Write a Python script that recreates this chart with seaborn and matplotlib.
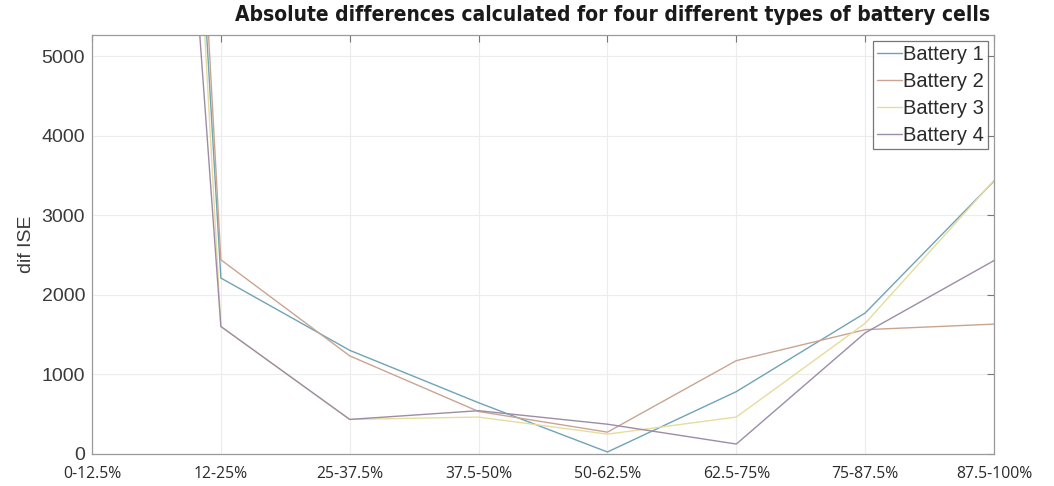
import pandas as pd
import seaborn as sns
import matplotlib.pyplot as plt

# state-of-charge windows
windows = ["0-12.5%", "12-25%", "25-37.5%", "37.5-50%",
           "50-62.5%", "62.5-75%", "75-87.5%", "87.5-100%"]

# dif ISE (first window runs far off the top)
battery_1 = [30000, 2210, 1300, 640, 20, 780, 1770, 3430]
battery_2 = [32000, 2440, 1230, 530, 270, 1170, 1560, 1630]
battery_3 = [31000, 1600, 430, 460, 245, 460, 1640, 3440]
battery_4 = [24000, 1600, 430, 540, 370, 120, 1520, 2430]

names = ["Battery 1", "Battery 2", "Battery 3", "Battery 4"]
colors = ["#6fa3b8", "#c9a591", "#e6dc9c", "#9c8ca8"]

df = pd.DataFrame({"window": windows,
                   "Battery 1": battery_1, "Battery 2": battery_2,
                   "Battery 3": battery_3, "Battery 4": battery_4})
long = df.melt(id_vars="window", var_name="battery", value_name="dif")

sns.set_style("white")
plt.rcParams["font.family"] = ["Liberation Sans", "DejaVu Sans"]

fig = plt.figure(figsize=(10.54, 4.86), dpi=100)
ax = fig.add_axes([0.0873, 0.0667, 0.8558, 0.8613])

sns.lineplot(data=long, x="window", y="dif", hue="battery",
             palette=dict(zip(names, colors)), linewidth=1.0,
             sort=False, ax=ax)

ax.set_xlim(0, 7)
ax.set_ylim(0, 5270)
ax.set_yticks([0, 1000, 2000, 3000, 4000, 5000])
ax.grid(True, color="#ececec", linewidth=0.8)
ax.set_axisbelow(True)

for s in ax.spines.values():
    s.set_color("#9a9a9a")
    s.set_linewidth(0.9)
ax.tick_params(direction="in", length=5, width=0.8, color="#777777",
               top=True, right=True)
ax.tick_params(axis="y", labelsize=14, labelcolor="#3a3a3a", pad=5)
ax.tick_params(axis="x", pad=9)
for lab in ax.get_xticklabels():
    lab.set_fontfamily(["Open Sans", "DejaVu Sans"])
    lab.set_fontsize(11.3)
    lab.set_color("#2a2a2a")

ax.set_xlabel("")
ax.set_ylabel("dif ISE", fontsize=14, color="#3a3a3a", labelpad=5)
fig.text(0.581, 0.969,
         "Absolute differences calculated for four different types of battery cells",
         ha="center", va="center", fontsize=15, fontweight="bold",
         fontstretch="condensed", color="#1a1a1a",
         family=["DejaVu Sans"])

leg = ax.legend(loc="upper right", fontsize=14.5, frameon=True, fancybox=False,
                handlelength=1.25, handletextpad=0.05, labelspacing=0.4,
                borderpad=0.2, borderaxespad=0.3)
leg.get_frame().set_edgecolor("#555555")
leg.get_frame().set_linewidth(0.9)
for t in leg.get_texts():
    t.set_color("#2a2a2a")

fig.savefig("out.png", dpi=100)
